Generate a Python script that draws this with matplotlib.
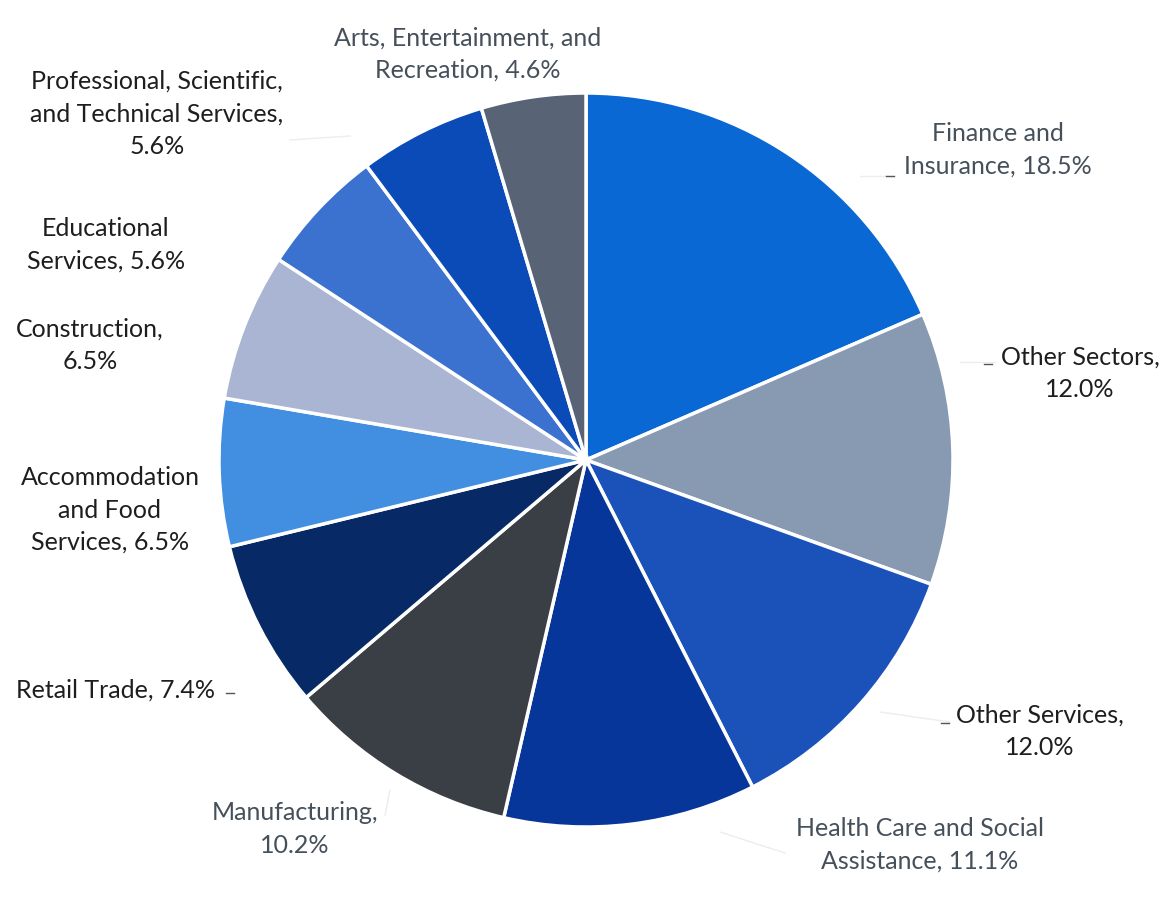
import numpy as np
import matplotlib
matplotlib.use("Agg")
import matplotlib.pyplot as plt

# Share of establishments by sector
sectors = [
    "Finance and\nInsurance,", "Other Sectors,\n", "Other Services,\n",
    "Health Care and Social\nAssistance,", "Manufacturing,\n", "Retail Trade,",
    "Accommodation\nand Food\nServices,", "Construction,\n", "Educational\nServices,",
    "Professional, Scientific,\nand Technical Services,\n",
    "Arts, Entertainment, and\nRecreation,",
]
shares = [18.5, 12.0, 12.0, 11.1, 10.2, 7.4, 6.5, 6.5, 5.6, 5.6, 4.6]
colors = ["#0a68d4", "#889ab2", "#1b52b9", "#06369a", "#3a3e45", "#072a66",
          "#428ee0", "#a9b5d2", "#3b71cf", "#0a4bb8", "#586476"]

# label layout: text anchor in pixels, text colour
label_px = [(998, 150), (1080, 373), (1040, 731), (920, 845), (295, 829),
            (115, 690), (110, 510), (90, 345), (106, 245), (157, 114), (468, 54)]
gray_text = "#46505b"
dark_text = "#1e1e1e"
label_colors = [gray_text, dark_text, dark_text, gray_text, gray_text, dark_text,
                dark_text, dark_text, dark_text, dark_text, gray_text]

W, H = 1167, 909
cx, cy, R = 586, 460, 367

plt.rcParams["font.family"] = ["Lato", "DejaVu Sans"]
fig = plt.figure(figsize=(W / 100, H / 100), dpi=100)
ax = fig.add_axes([0, 0, 1, 1])


def to_data(px, py):
    return (px - cx) / R, (cy - py) / R


ax.pie(shares, colors=colors, startangle=90, counterclock=False, radius=1,
       wedgeprops=dict(edgecolor="white", linewidth=2.5))

for name, val, (px, py), tc in zip(sectors, shares, label_px, label_colors):
    sep = "" if name.endswith("\n") else " "
    txt = f"{name}{sep}{val:.1f}%"
    x, y = to_data(px, py)
    ax.text(x, y, txt, ha="center", va="center", fontsize=18, color=tc,
            linespacing=1.5)

# faint leader lines
leaders = [((893, 176), (860, 176)), ((995, 362), (960, 362)),
           ((950, 722), (880, 712)), ((785, 853), (720, 832)),
           ((385, 815), (390, 790)), ((290, 140), (350, 136))]
for (x0, y0), (x1, y1) in leaders:
    a, b = to_data(x0, y0)
    c, d = to_data(x1, y1)
    ax.plot([a, c], [b, d], color="#ededed", lw=1)

# short dark ticks where the leaders meet the labels
ticks = [(890, 176), (988, 364), (945, 723), (230, 693)]
for px, py in ticks:
    a, b = to_data(px - 4, py)
    c, d = to_data(px + 4, py)
    ax.plot([a, c], [b, d], color="#555555", lw=1)

ax.set_xlim(-cx / R, (W - cx) / R)
ax.set_ylim(-(H - cy) / R, cy / R)
ax.set_aspect("equal")
ax.axis("off")

fig.savefig("out.png", dpi=100, facecolor="white")
